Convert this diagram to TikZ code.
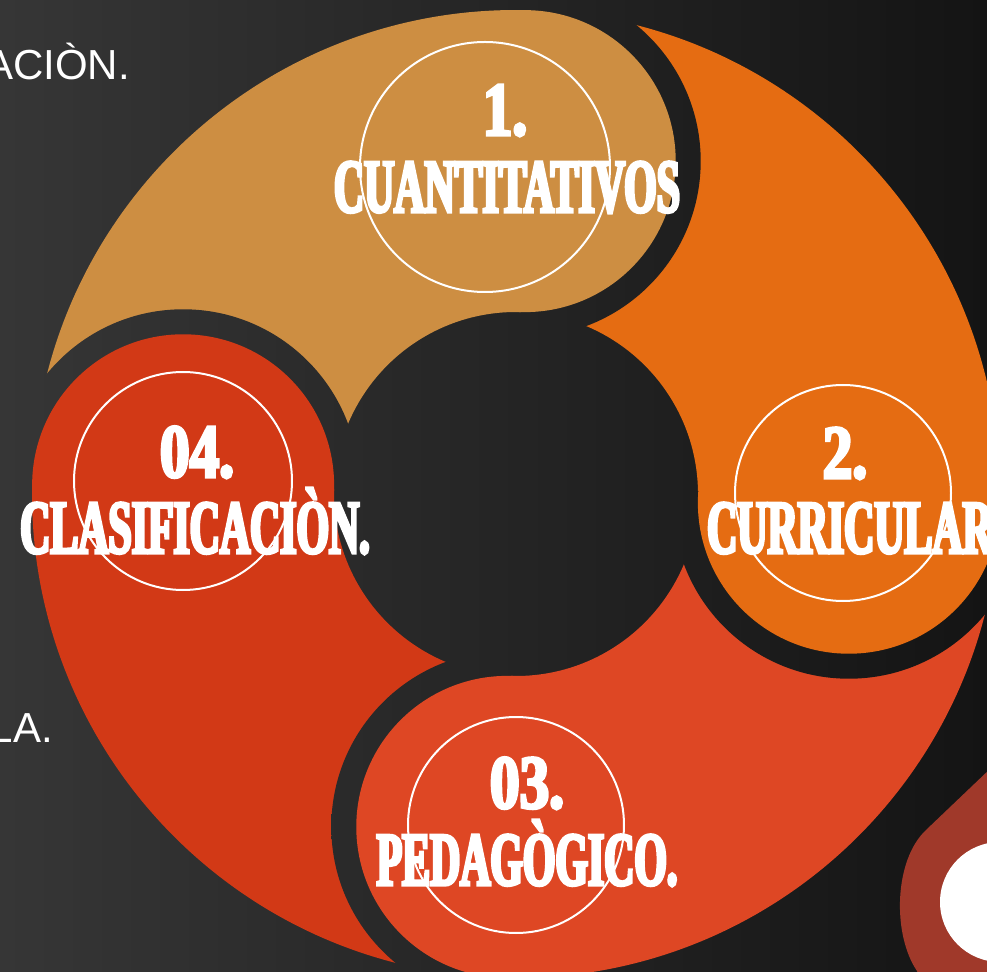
\documentclass[tikz,border=0pt]{standalone}
\usepackage{fontspec}
\usepackage{tikz}
\newfontfamily\headfont{Liberation Serif Bold}[FakeStretch=0.55,FakeBold=4]
\newfontfamily\numfont{Liberation Serif Bold}[FakeStretch=0.78,FakeBold=4]
\newfontfamily\bodyfont{Liberation Sans}
\definecolor{bgleft}{RGB}{54,54,54}
\definecolor{bgright}{RGB}{20,20,20}
\definecolor{cuantcol}{RGB}{205,142,66}
\definecolor{currcol}{RGB}{229,108,18}
\definecolor{pedacol}{RGB}{222,71,36}
\definecolor{clascol}{RGB}{210,57,22}
\definecolor{nextcol}{RGB}{160,57,42}
\newcommand{\chalkbg}{\shade[left color=bgleft, right color=bgright] (-516,-477) rectangle (471,494);}
\tikzset{
  numtxt/.style={text=white, font=\numfont\fontsize{76}{76}\selectfont, inner sep=0pt, anchor=base},
  wordtxt/.style={text=white, font=\headfont\fontsize{76}{76}\selectfont, inner sep=0pt, anchor=base},
  sidetxt/.style={text=white, font=\bodyfont\fontsize{42}{42}\selectfont, inner sep=0pt, anchor=base east},
  markring/.style={circle, draw=white, line width=2pt, inner sep=0pt}
}

\begin{document}
\begin{tikzpicture}[x=1pt,y=1pt]
    \useasboundingbox (-516,-477) rectangle (471,494);
    \clip (-516,-477) rectangle (471,494);
    \chalkbg
    \node[sidetxt] (restA) at (-386,414) {ACIÒN.};
    \node[sidetxt] (restB) at (-463,-248) {LA.};
    \foreach \ang/\col [evaluate=\ang as \endang using \ang+90] in
        {-1.5/currcol, 88.5/cuantcol, 178.5/clascol, 268.5/pedacol} {
        \begin{scope}
            \clip (\ang:333) circle (176);
            \chalkbg
        \end{scope}
        \fill[\col] (\ang:333) circle (151);
        \fill[\col] (\ang:484) arc[start angle=\ang, end angle=\endang, radius=484]
            -- (\endang:182) arc[start angle=\endang, end angle=\ang, radius=182] -- cycle;
    }
    % head 2 has to lie over the tail of 03 too
    \begin{scope}
        \clip (0,0) -- (1:800) -- (-70:800) -- cycle;
        \clip (-1.5:333) circle (176);
        \chalkbg
    \end{scope}
    \begin{scope}
        \clip (0,0) -- (8:800) -- (-70:800) -- cycle;
        \fill[currcol] (-1.5:333) circle (151);
    \end{scope}
    \fill[nextcol] (540,-212) -- (410,-336) .. controls (378,-366) and (376,-440) .. (401,-477)
        -- (410,-500) -- (540,-500) -- cycle;
    \fill[white] (484,-408) circle (60);

    \node[markring, minimum size=250pt] (ringA) at (-31,327) {};
    \node[markring, minimum size=216pt] (ringB) at (327,1) {};
    \node[markring, minimum size=216pt] (ringC) at (0,-331) {};
    \node[markring, minimum size=218pt] (ringD) at (-333,13) {};

    \node[numtxt] (numA) at (-11,359) {1.};
    \node[wordtxt] (wordA) at (-9,282) {CUANTITATIVOS};
    \node[numtxt] (numB) at (329,16) {2.};
    \node[wordtxt] (wordB) at (334,-59) {CURRICULAR};
    \node[numtxt] (numC) at (11,-314) {03.};
    \node[wordtxt] (wordC) at (11,-391) {PEDAGÒGICO.};
    \node[numtxt] (numD) at (-319,17) {04.};
    \node[wordtxt] (wordD) at (-321,-59) {CLASIFICACIÒN.};
\end{tikzpicture}
\end{document}
